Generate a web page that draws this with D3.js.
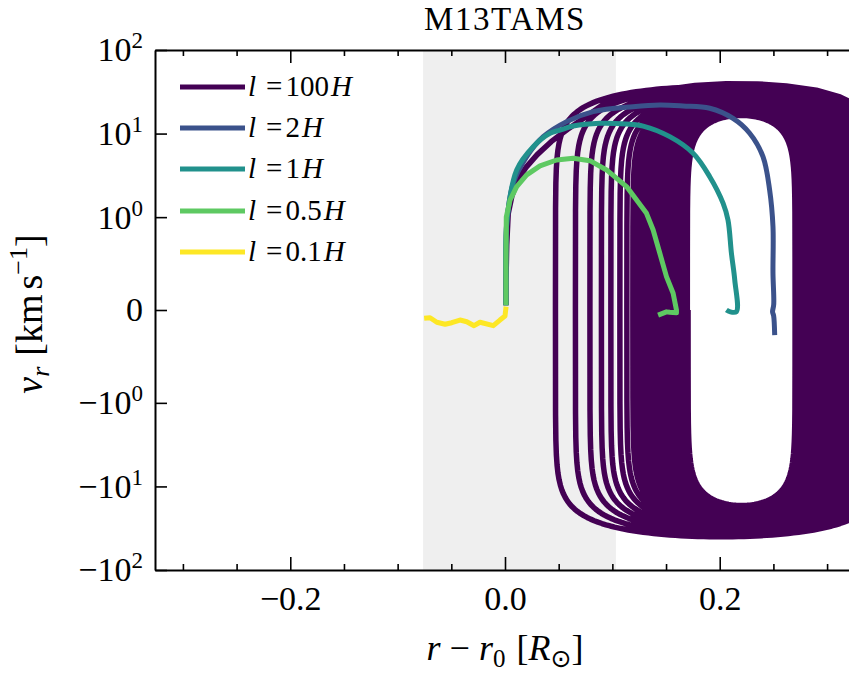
<!DOCTYPE html>
<html>
<head>
<meta charset="utf-8">
<script src="https://cdn.jsdelivr.net/npm/d3@7"></script>
<style>
  body { margin: 0; background: #fff; }
  svg { display: block; }
  text { font-family: "Liberation Serif", "DejaVu Serif", serif; fill: #000; }
</style>
</head>
<body>
<svg id="chart" width="849" height="673" font-family="Liberation Serif, DejaVu Serif, serif"></svg>
<script>
// ---------------- data ----------------
const titleText = "M13TAMS";
const seriesNames = ["100", "2", "1", "0.5", "0.1"];   // l = ... H

// l = 100H : first outward swing from rest (r in R_sun, v in km/s)
const first100R = [0.0009, 0.0009, 0.0016, 0.003, 0.0065, 0.012, 0.02, 0.03, 0.043, 0.058, 0.075, 0.093, 0.11, 0.13, 0.152, 0.177, 0.206, 0.235, 0.262, 0.29, 0.312, 0.33, 0.343, 0.351, 0.355];
const first100V = [0.05, 0.3, 0.7, 1.1, 1.8, 2.8, 4.0, 5.6, 8.0, 11.2, 15.8, 23.0, 28.0, 31.0, 34.0, 37.5, 39.5, 39.3, 37.2, 33.0, 27.5, 21.0, 14.0, 7.0, 0];
// l = 100H : turning radii of the following oscillation
const turnLeft100 = [0, 0.0470, 0.0656, 0.0791, 0.0898, 0.0986, 0.1070, 0.1135, 0.1191, 0.1233, 0.1274, 0.1312, 0.1349, 0.1386, 0.1419, 0.1451, 0.1484, 0.1516, 0.1544, 0.1572, 0.1600, 0.1628, 0.1651, 0.1674, 0.1698, 0.1705];
const turnRight100 = [0.3553, 0.3479, 0.3414, 0.3358, 0.3312, 0.3265, 0.3228, 0.3191, 0.3158, 0.3126, 0.3093, 0.3060, 0.3028, 0.2995, 0.2963, 0.2930, 0.2898, 0.2865, 0.2837, 0.2809, 0.2781, 0.2758, 0.2735, 0.2716, 0.2702];
// l = 100H : peak speed of each outward (v > 0) and return (v < 0) swing
const peakOut100 = [39.5, 36.5, 34, 32, 30.3, 28.8, 27.5, 26.3, 25.2, 24.3, 23.4, 22.6, 21.9, 21.2, 20.6, 20.0, 19.5, 19.0, 18.6, 18.2, 17.8, 17.4, 17.1, 16.8, 16.5];
const peakBack100 = [40, 37.5, 35, 33, 31.2, 29.6, 28.2, 27, 25.9, 24.9, 24, 23.2, 22.5, 21.8, 21.2, 20.6, 20.1, 19.6, 19.1, 18.7, 18.3, 17.9, 17.5, 17.2, 16.9];

// l = 2H
const r2 = [0.0009, 0.0009, 0.0016, 0.0077, 0.0202, 0.0356, 0.0574, 0.0821, 0.1193, 0.1442, 0.1659, 0.1907, 0.2124, 0.2279, 0.2403, 0.2465, 0.2496, 0.2496, 0.2503, 0.2492, 0.2502, 0.2512];
const v2 = [0.05, 0.3, 0.94, 2.54, 5.29, 9.18, 13.9, 18.3, 21.0, 22.0, 21.4, 20.1, 15.2, 10.1, 5.29, 2.11, 0.897, 0.395, 0.06, -0.02, -0.06, -0.27];
// l = 1H
const r1 = [0.0009, 0.0009, 0.0019, 0.0109, 0.0263, 0.0419, 0.0512, 0.0635, 0.0884, 0.1132, 0.1287, 0.1535, 0.1752, 0.1907, 0.2031, 0.2077, 0.2109, 0.2140, 0.2155, 0.2093, 0.2062];
const v1 = [0.05, 0.3, 0.97, 3.67, 6.97, 10.1, 11.0, 12.3, 13.3, 13.0, 12.3, 9.18, 5.81, 3.05, 1.47, 0.969, 0.611, 0.323, -0.018, -0.018, 0];
// l = 0.5H
const r05 = [0.0009, 0.0009, 0.0012, 0.0047, 0.0109, 0.0202, 0.0326, 0.0481, 0.0635, 0.0791, 0.0946, 0.1132, 0.1318, 0.1380, 0.1442, 0.1504, 0.1566, 0.1597, 0.1597, 0.1535, 0.1504, 0.1426];
const v05 = [0.05, 0.5, 1.0, 1.6, 2.32, 3.2, 4.1, 4.83, 5.07, 4.74, 3.67, 2.32, 1.11, 0.862, 0.611, 0.359, 0.18, 0, -0.03, -0.025, -0.02, -0.055];
// l = 0.1H
const r01 = [-0.0753, -0.0698, -0.0635, -0.0558, -0.0496, -0.0419, -0.0356, -0.0288, -0.0233, -0.0109, -0.0047, 0.0, 0.001];
const v01 = [-0.089, -0.083, -0.132, -0.154, -0.137, -0.108, -0.126, -0.169, -0.132, -0.169, -0.108, -0.065, 0.036];

// axis ticks
const xMajorTicks = [-0.2, 0.0, 0.2];
const xMajorLabels = ["\u22120.2", "0.0", "0.2"];
const xMinorTicks = [-0.3, -0.25, -0.15, -0.1, -0.05, 0.05, 0.1, 0.15, 0.25, 0.3];
const yTicks = [-100, -10, -1, 0, 1, 10, 100];
const yTickBase = ["\u221210", "\u221210", "\u221210", "0", "10", "10", "10"];
const yTickExp = ["2", "1", "0", "", "0", "1", "2"];
const shadedRange = [-0.0763, 0.1033];

// ---------------- styles ----------------
const seriesColors = ["#440154", "#3b528b", "#21918c", "#5ec962", "#fde725"];
const lineWidth = 5;
const plot = { left: 155, right: 855, top: 50, bottom: 570 };

// ---------------- scales ----------------
const x = d3.scaleLinear().domain([-0.326, 0.326]).range([plot.left, plot.right]);
// symmetric log (linear inside |v| <= 1, log10 outside)
const LINSCALE = 1 / (1 - 1 / 10);
const symT = v => Math.abs(v) <= 1 ? v * LINSCALE : Math.sign(v) * (LINSCALE + Math.log10(Math.abs(v)));
const yT = d3.scaleLinear().domain([symT(-100), symT(100)]).range([plot.bottom, plot.top]);
const y = v => yT(symT(v));

const svg = d3.select("#chart");

svg.append("defs").append("clipPath").attr("id", "plotClip")
  .append("rect")
  .attr("x", plot.left).attr("y", plot.top)
  .attr("width", plot.right - plot.left).attr("height", plot.bottom - plot.top);

// shaded band
svg.append("rect")
  .attr("x", x(shadedRange[0])).attr("y", plot.top)
  .attr("width", x(shadedRange[1]) - x(shadedRange[0]))
  .attr("height", plot.bottom - plot.top)
  .attr("fill", "#efefef");

const lines = svg.append("g").attr("clip-path", "url(#plotClip)");

// l = 100H trajectory: first swing, then swings between turning radii
function swing(a, b, peak, out) {
  const n = 90;
  for (let k = 1; k <= n; k++) {
    const th = k / n;
    out.push([a + (b - a) * (1 - Math.cos(Math.PI * th)) / 2, peak * Math.sin(Math.PI * th)]);
  }
}
const traj100 = first100R.map((r, i) => [r, first100V[i]]);
for (let i = 0; i < turnRight100.length; i++) {
  if (i > 0) swing(turnLeft100[i], turnRight100[i], peakOut100[i], traj100);
  swing(turnRight100[i], turnLeft100[i + 1], -peakBack100[i], traj100);
}

const lineSmooth = d3.line().x(d => x(d[0])).y(d => y(d[1])).curve(d3.curveCatmullRom.alpha(0.5));
const lineStraight = d3.line().x(d => x(d[0])).y(d => y(d[1]));

const series = [
  { pts: traj100, gen: lineStraight },
  { pts: r2.map((r, i) => [r, v2[i]]), gen: lineSmooth },
  { pts: r1.map((r, i) => [r, v1[i]]), gen: lineSmooth },
  { pts: r05.map((r, i) => [r, v05[i]]), gen: lineStraight },
  { pts: r01.map((r, i) => [r, v01[i]]), gen: lineStraight }
];
series.forEach((s, i) => {
  lines.append("path")
    .attr("d", s.gen(s.pts))
    .attr("fill", "none")
    .attr("stroke", seriesColors[i])
    .attr("stroke-width", i === 0 ? 5.5 : lineWidth)
    .attr("stroke-linejoin", "round")
    .attr("stroke-linecap", "butt");
});

// ---------------- axes ----------------
function styleAxis(g) {
  g.selectAll(".domain").attr("stroke", "#000").attr("stroke-width", 2);
  g.selectAll(".tick line").attr("stroke", "#000").attr("stroke-width", 1.6);
  g.attr("font-family", null).attr("font-size", null);
}

// bottom
const gxMinor = svg.append("g").attr("transform", `translate(0,${plot.bottom})`)
  .call(d3.axisBottom(x).tickValues(xMinorTicks).tickSize(-6).tickSizeOuter(0).tickFormat(""));
gxMinor.select(".domain").remove();
styleAxis(gxMinor);
const gx = svg.append("g").attr("transform", `translate(0,${plot.bottom})`)
  .call(d3.axisBottom(x).tickValues(xMajorTicks).tickSize(-13).tickSizeOuter(0).tickPadding(16)
    .tickFormat((d, i) => xMajorLabels[i]));
styleAxis(gx);
gx.selectAll(".tick text").attr("font-size", 34);

// top
const gtMinor = svg.append("g").attr("transform", `translate(0,${plot.top})`)
  .call(d3.axisTop(x).tickValues(xMinorTicks).tickSize(-6).tickSizeOuter(0).tickFormat(""));
gtMinor.select(".domain").remove();
styleAxis(gtMinor);
const gt = svg.append("g").attr("transform", `translate(0,${plot.top})`)
  .call(d3.axisTop(x).tickValues(xMajorTicks).tickSize(-13).tickSizeOuter(0).tickFormat(""));
styleAxis(gt);

// left
const gy = svg.append("g").attr("transform", `translate(${plot.left},0)`)
  .call(d3.axisLeft(yT).tickValues(yTicks.map(symT)).tickSize(-12).tickSizeOuter(0).tickPadding(12)
    .tickFormat(""));
styleAxis(gy);
gy.selectAll(".tick text").each(function (d, i) {
  const t = d3.select(this).attr("font-size", 34);
  t.append("tspan").text(yTickBase[i]);
  if (yTickExp[i]) t.append("tspan").attr("font-size", 23).attr("dy", -13).text(yTickExp[i]);
});

// ---------------- labels ----------------
svg.append("text")
  .attr("x", x(0)).attr("y", 30)
  .attr("text-anchor", "middle").attr("font-size", 33)
  .attr("letter-spacing", 1.5)
  .text(titleText);

const xl = svg.append("text")
  .attr("x", x(0)).attr("y", 660)
  .attr("text-anchor", "middle").attr("font-size", 36);
xl.append("tspan").attr("font-style", "italic").text("r");
xl.append("tspan").attr("dx", 9).text("\u2212");
xl.append("tspan").attr("font-style", "italic").attr("dx", 9).text("r");
xl.append("tspan").attr("font-size", 25).attr("dy", 7).text("0");
xl.append("tspan").attr("dy", -7).attr("dx", 11).text("[");
xl.append("tspan").attr("font-style", "italic").text("R");
xl.append("tspan").attr("font-size", 25).attr("dy", 7).attr("font-family", "DejaVu Sans").text("\u2299");
xl.append("tspan").attr("dy", -7).text("]");

const yl = svg.append("text")
  .attr("transform", `translate(42,314) rotate(-90)`)
  .attr("text-anchor", "middle").attr("font-size", 38);
yl.append("tspan").attr("font-style", "italic").text("v");
yl.append("tspan").attr("font-style", "italic").attr("font-size", 26).attr("dy", 7).text("r");
yl.append("tspan").attr("dy", -7).attr("dx", 11).text("[km");
yl.append("tspan").attr("dx", 5).text("s");
yl.append("tspan").attr("font-size", 26).attr("dy", -15).text("\u22121");
yl.append("tspan").attr("dy", 15).text("]");

// ---------------- legend ----------------
const legendRowY = [87, 128, 169, 211, 252];
const legend = svg.append("g");
seriesNames.forEach((name, i) => {
  const ry = legendRowY[i];
  legend.append("line")
    .attr("x1", 180).attr("x2", 245).attr("y1", ry).attr("y2", ry)
    .attr("stroke", seriesColors[i]).attr("stroke-width", lineWidth);
  const t = legend.append("text").attr("x", 248).attr("y", ry + 9).attr("font-size", 29);
  t.append("tspan").attr("font-style", "italic").text("l");
  t.append("tspan").attr("dx", 10).text("=");
  t.append("tspan").attr("dx", 3).text(name);
  t.append("tspan").attr("font-style", "italic").attr("dx", 2).text("H");
});
</script>
</body>
</html>
